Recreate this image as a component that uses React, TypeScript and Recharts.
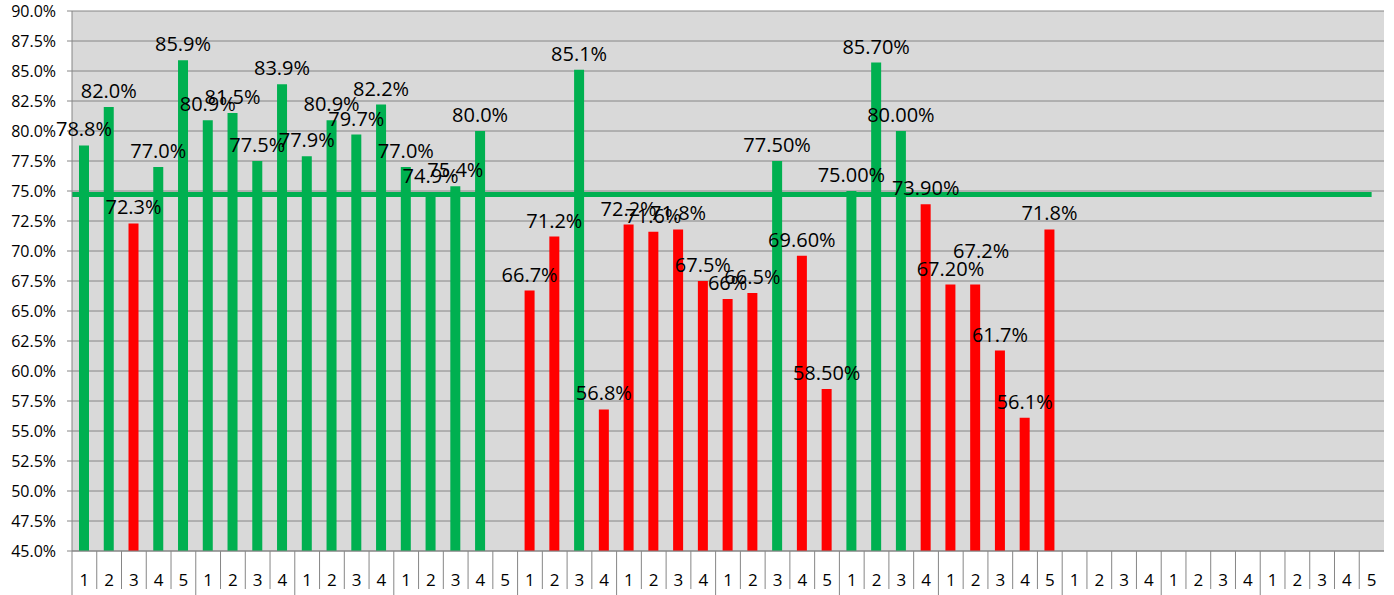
import React from 'react';
import {
  Bar,
  BarChart,
  CartesianGrid,
  Cell,
  LabelList,
  ReferenceLine,
  XAxis,
  YAxis,
} from 'recharts';

// group sub-labels along the category axis
const categories = [
  '1', '2', '3', '4', '5',
  '1', '2', '3', '4',
  '1', '2', '3', '4',
  '1', '2', '3', '4', '5',
  '1', '2', '3', '4',
  '1', '2', '3', '4',
  '1', '2', '3', '4', '5',
  '1', '2', '3', '4',
  '1', '2', '3', '4', '5',
  '1', '2', '3', '4',
  '1', '2', '3', '4',
  '1', '2', '3', '4', '5',
];

// score per slot (%), null where nothing was recorded
const scores: (number | null)[] = [
  78.8, 82.0, 72.3, 77.0, 85.9,
  80.9, 81.5, 77.5, 83.9,
  77.9, 80.9, 79.7, 82.2,
  77.0, 74.9, 75.4, 80.0, null,
  66.7, 71.2, 85.1, 56.8,
  72.2, 71.6, 71.8, 67.5,
  66, 66.5, 77.5, 69.6, 58.5,
  75.0, 85.7, 80.0, 73.9,
  67.2, 67.2, 61.7, 56.1, 71.8,
  null, null, null, null,
  null, null, null, null,
  null, null, null, null, null,
];

// decimals shown in each value label
const decimals = [
  1, 1, 1, 1, 1,
  1, 1, 1, 1,
  1, 1, 1, 1,
  1, 1, 1, 1, 1,
  1, 1, 1, 1,
  1, 1, 1, 1,
  0, 1, 2, 2, 2,
  2, 2, 2, 2,
  2, 1, 1, 1, 1,
  1, 1, 1, 1,
  1, 1, 1, 1,
  1, 1, 1, 1, 1,
];

const average = 74.7;

const yTicks = [45, 47.5, 50, 52.5, 55, 57.5, 60, 62.5, 65, 67.5, 70, 72.5, 75, 77.5, 80, 82.5, 85, 87.5, 90];

const GREEN = '#00b050';
const RED = '#ff0000';
const GRID = '#868686';
const FONT = '"Open Sans", sans-serif';

const WIDTH = 1394;
const HEIGHT = 595;
const MARGIN = { top: 11, right: 10, bottom: 0, left: 0 };
const Y_AXIS_W = 72;
const HALF_BAND = (WIDTH - MARGIN.right - Y_AXIS_W) / categories.length / 2;

// a few labels were dragged off their default spot (keyed by slot)
const labelNudge: Record<number, { dx: number; dy: number }> = {
  36: { dx: 6, dy: -18 },
};

// LabelList skips empty slots, so re-key the nudges by label order
const nudgeByLabel: Record<number, { dx: number; dy: number }> = {};
Object.keys(labelNudge).forEach((k) => {
  const slot = Number(k);
  const pos = scores.slice(0, slot).filter((v) => v != null).length;
  nudgeByLabel[pos] = labelNudge[slot];
});

const data = categories.map((cat, i) => {
  const v = scores[i];
  return {
    cat,
    value: v,
    label: v == null ? undefined : `${v.toFixed(decimals[i])}%`,
  };
});

// category tick: digit plus cell borders, longer border where a new group starts
function CategoryTick(props: any) {
  const { x, y, payload, index } = props;
  const half = payload?.offset ?? HALF_BAND;
  const left = x - half;
  const groupStart = payload?.value === '1';
  return (
    <g>
      <line
        x1={left}
        x2={left}
        y1={y}
        y2={y + (groupStart || index === 0 ? 44 : 38)}
        stroke={GRID}
        strokeWidth={1}
      />
      <text
        x={x}
        y={y + 28}
        textAnchor="middle"
        dominantBaseline="central"
        fontFamily={FONT}
        fontSize={17}
        fill="#000"
      >
        {payload.value}
      </text>
    </g>
  );
}

function ValueLabel(props: any) {
  const { x, y, width, value, index } = props;
  if (value == null) return null;
  const nudge = nudgeByLabel[index] ?? { dx: 0, dy: 0 };
  return (
    <text
      x={x + width / 2 + nudge.dx}
      y={y - 9 + nudge.dy}
      textAnchor="middle"
      fontFamily={FONT}
      fontSize={20}
      fill="#000"
    >
      {value}
    </text>
  );
}

// average line stops at the centre of the last slot
function AverageLine(props: any) {
  const { x1, x2, y1, y2 } = props;
  if (x1 == null) return null;
  return (
    <line
      x1={x1}
      y1={y1}
      x2={x2 - HALF_BAND}
      y2={y2}
      stroke={GREEN}
      strokeWidth={5}
    />
  );
}

export default function App() {
  return (
    <div
      style={{
        position: 'absolute',
        left: 0,
        top: 0,
        width: WIDTH,
        height: HEIGHT,
        background: '#fff',
      }}
    >
      <BarChart
        width={WIDTH}
        height={HEIGHT}
        data={data}
        margin={MARGIN}
        barCategoryGap={0}
      >
        <CartesianGrid
          vertical={false}
          stroke={GRID}
          fill="#d9d9d9"
          fillOpacity={1}
        />
        <XAxis
          dataKey="cat"
          interval={0}
          height={44}
          tickSize={0}
          tickMargin={0}
          tickLine={false}
          axisLine={{ stroke: GRID }}
          tick={<CategoryTick />}
        />
        <YAxis
          type="number"
          domain={[45, 90]}
          ticks={yTicks}
          allowDataOverflow
          width={Y_AXIS_W}
          tickSize={5}
          tickMargin={11}
          axisLine={{ stroke: GRID }}
          tickLine={{ stroke: GRID }}
          tickFormatter={(v: number) => `${v.toFixed(1)}%`}
          tick={{ fontFamily: FONT, fontSize: 16, fill: '#000' }}
        />
        <Bar dataKey="value" barSize={10} isAnimationActive={false}>
          {data.map((d, i) => (
            <Cell
              key={`cell-${i}`}
              fill={d.value != null && d.value >= average ? GREEN : RED}
            />
          ))}
          <LabelList dataKey="label" content={<ValueLabel />} />
        </Bar>
        <ReferenceLine y={average} shape={<AverageLine />} />
      </BarChart>
    </div>
  );
}
